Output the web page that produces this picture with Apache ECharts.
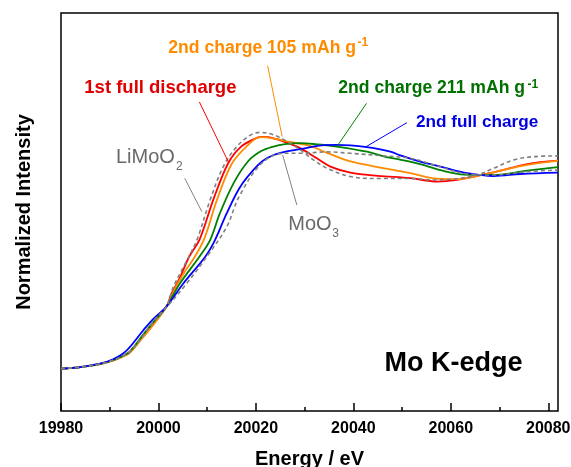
<!DOCTYPE html>
<html><head><meta charset="utf-8">
<script src="https://cdn.jsdelivr.net/npm/echarts@6/dist/echarts.min.js"></script>
<style>html,body{margin:0;padding:0;background:#fff}#c{width:571px;height:467px}</style>
</head><body><div id="c"></div>
<script>
// ---- data (energy in eV, normalized intensity) ----
const majorTicks = [19980, 20000, 20020, 20040, 20060, 20080];
const minorTicks = [19990, 20010, 20030, 20050, 20070];

const discharge1 = [[19980,0.013],[19984,0.021],[19988,0.037],[19990.7,0.056],[19992.8,0.078],[19994.2,0.100],[19996.9,0.180],[19998.9,0.240],[20001.6,0.323],[20002.7,0.390],[20004.4,0.470],[20006.3,0.575],[20008.5,0.665],[20011.3,0.865],[20014.3,1.045],[20016.8,1.125],[20019.5,1.165],[20021,1.178],[20022.5,1.176],[20025.7,1.154],[20029.1,1.121],[20032.5,1.070],[20035.3,1.028],[20039.4,0.998],[20045,0.982],[20051.7,0.970],[20057.2,0.953],[20061.3,0.961],[20065.4,0.981],[20070.2,1.008],[20075.7,1.041],[20082,1.058]];
const charge105 = [[19980,0.013],[19984,0.021],[19988,0.035],[19990.7,0.053],[19992.8,0.074],[19994.2,0.094],[19996.9,0.172],[19998.9,0.231],[20001.6,0.323],[20003.6,0.425],[20005.4,0.500],[20007.2,0.565],[20009.4,0.665],[20012.0,0.860],[20015.0,1.040],[20018.1,1.130],[20020.9,1.176],[20023.5,1.170],[20027.0,1.152],[20031.1,1.132],[20034.6,1.097],[20039.4,1.054],[20046.2,1.021],[20051.7,0.995],[20057.9,0.966],[20061.3,0.965],[20065.4,0.981],[20070.2,1.008],[20075.7,1.037],[20082,1.058]];
const charge211 = [[19980,0.013],[19984,0.021],[19988,0.036],[19990.7,0.055],[19992.8,0.078],[19994.2,0.100],[19996.9,0.185],[19998.9,0.245],[20001.6,0.323],[20004.4,0.441],[20008.4,0.575],[20010.6,0.659],[20012.6,0.793],[20015.4,0.944],[20018.4,1.055],[20021,1.105],[20023.6,1.129],[20026,1.141],[20029.1,1.146],[20032.5,1.140],[20036.6,1.129],[20042.8,1.103],[20046.2,1.080],[20049.8,1.062],[20053.7,1.040],[20057.9,1.010],[20062.7,0.988],[20068.8,0.986],[20075.7,1.008],[20082,1.025]];
const fullCharge2 = [[19980,0.013],[19984,0.021],[19988,0.038],[19990.7,0.060],[19993.5,0.105],[19996.9,0.206],[19998.9,0.262],[20001.6,0.323],[20005.1,0.441],[20009.6,0.575],[20011.6,0.659],[20014.0,0.793],[20016.8,0.927],[20020.2,1.030],[20022.2,1.070],[20025.0,1.097],[20030.5,1.122],[20033.5,1.135],[20036.6,1.137],[20042.8,1.126],[20047.6,1.103],[20049.6,1.085],[20053.7,1.053],[20057.9,1.028],[20063.4,0.995],[20068.8,0.981],[20074.3,0.991],[20082,0.998]];
const limoo2 = [[19980,0.013],[19984,0.021],[19988,0.036],[19990.7,0.055],[19992.8,0.077],[19994.2,0.098],[19996.9,0.180],[19998.9,0.245],[20001.6,0.323],[20003.0,0.420],[20005.9,0.560],[20007.9,0.660],[20010.6,0.860],[20013.3,1.028],[20016.1,1.129],[20018.8,1.185],[20020.8,1.200],[20023,1.193],[20026,1.160],[20029.1,1.112],[20031.8,1.062],[20034.6,1.020],[20039.4,0.978],[20045.5,0.968],[20051.7,0.968],[20056.5,0.961],[20061.3,0.968],[20065.4,0.986],[20068.8,1.020],[20072.9,1.062],[20077,1.078],[20082,1.082]];
const moo3 = [[19980,0.013],[19984,0.021],[19988,0.036],[19990.7,0.055],[19992.8,0.077],[19994.2,0.098],[19996.9,0.180],[19998.9,0.250],[20001.6,0.320],[20005.8,0.441],[20009.9,0.575],[20014.0,0.725],[20016.6,0.880],[20021.2,1.045],[20025.7,1.095],[20029.1,1.095],[20034.6,1.102],[20039.4,1.095],[20046.2,1.082],[20051.7,1.070],[20056.5,1.037],[20063.4,0.991],[20068.8,0.986],[20075.7,1.003],[20082,1.011]];

const seriesNames = ['1st full discharge', '2nd charge 105 mAh g-1', '2nd charge 211 mAh g-1', '2nd full charge', 'LiMoO2', 'MoO3'];

// leader lines in data coordinates [from, to]
const leaders = [
  {color:'#ff8c00', from:[20022.4,1.535], to:[20025.4,1.178]},
  {color:'#ff0000', from:[20008.4,1.353], to:[20014.4,1.049]},
  {color:'#008000', from:[20042.7,1.346], to:[20036.6,1.128]},
  {color:'#0000ff', from:[20051.0,1.249], to:[20042.6,1.128]},
  {color:'#808080', from:[20005.4,0.969], to:[20008.9,0.802]},
  {color:'#808080', from:[20025.5,1.086], to:[20028.4,0.835]}
];

const FF = '"Liberation Sans", Arial, sans-serif';
// text labels: [text, x(left), baseline, fontSize, weight, color]
const labels = [
  ['2nd charge 105 mAh g', 168.3, 53.3, 17.6, 'bold', '#ff8c00'],
  ['-1', 357.5, 46.6, 12, 'bold', '#ff8c00'],
  ['1st full discharge', 84.3, 93.3, 18.5, 'bold', '#e00000'],
  ['2nd charge 211 mAh g', 338.3, 93.3, 17.6, 'bold', '#007000'],
  ['-1', 527.5, 88.4, 12, 'bold', '#007000'],
  ['2nd full charge', 416, 127.3, 17.2, 'bold', '#0000e0'],
  ['LiMoO', 116, 164, 20, 'normal', '#6a6a6a'],
  ['2', 176.0, 170, 12, 'normal', '#6a6a6a'],
  ['MoO', 288.3, 230.7, 20, 'normal', '#6a6a6a'],
  ['3', 332.3, 237.3, 12, 'normal', '#6a6a6a'],
  ['Mo K-edge', 384.5, 372.3, 27, 'bold', '#000000']
];

const chart = echarts.init(document.getElementById('c'), null, {renderer:'canvas'});

function mkLine(name, data, color, width, dashed, z) {
  return {
    name, type:'line', data, smooth:0.35, showSymbol:false, symbol:'none',
    xAxisIndex:0, yAxisIndex:0, z,
    lineStyle:{color, width, type: dashed ? [4,3] : 'solid'},
    emphasis:{disabled:true}, animation:false
  };
}

chart.setOption({
  animation:false,
  grid:{left:61, right:13, top:13, bottom:56, containLabel:false, outerBoundsMode:'none',
        show:true, borderColor:'#000', borderWidth:1.5, backgroundColor:'transparent'},
  xAxis:[{
    type:'value', min:19980, max:20082, position:'bottom',
    axisLine:{show:false, onZero:false},
    axisTick:{show:true, inside:true, length:8, lineStyle:{color:'#000', width:1.5}, customValues:majorTicks},
    axisLabel:{show:true, customValues:majorTicks, formatter:v => String(v), color:'#000', fontSize:16, fontWeight:'bold', fontFamily:FF, margin:10},
    splitLine:{show:false},
    name:'Energy / eV', nameLocation:'middle', nameGap:38,
    nameTextStyle:{color:'#000', fontSize:20, fontWeight:'bold', fontFamily:FF}
  },{
    type:'value', min:19980, max:20082, position:'bottom',
    axisLine:{show:false, onZero:false},
    axisTick:{show:true, inside:true, length:4, lineStyle:{color:'#000', width:1.5}, customValues:minorTicks},
    axisLabel:{show:false}, splitLine:{show:false}
  }],
  yAxis:{
    type:'value', min:-0.2, max:1.8,
    axisLine:{show:false, onZero:false}, axisTick:{show:false}, axisLabel:{show:false}, splitLine:{show:false},
    name:'Normalized Intensity', nameLocation:'middle', nameGap:27, nameRotate:90,
    nameTextStyle:{color:'#000', fontSize:20, fontWeight:'bold', fontFamily:FF}
  },
  series:[
    mkLine(seriesNames[0], discharge1, '#ff0000', 1.8, false, 2),
    mkLine(seriesNames[1], charge105, '#ff8c00', 1.8, false, 3),
    mkLine(seriesNames[2], charge211, '#008000', 1.8, false, 4),
    mkLine(seriesNames[3], fullCharge2, '#0000ff', 1.8, false, 5),
    mkLine(seriesNames[4], limoo2, '#808080', 1.6, true, 6),
    mkLine(seriesNames[5], moo3, '#808080', 1.6, true, 6)
  ]
});

const graphics = [];
leaders.forEach(l => {
  const p1 = chart.convertToPixel({gridIndex:0}, l.from);
  const p2 = chart.convertToPixel({gridIndex:0}, l.to);
  graphics.push({type:'line', silent:true, z:10, shape:{x1:p1[0], y1:p1[1], x2:p2[0], y2:p2[1]}, style:{stroke:l.color, lineWidth:1}});
});
labels.forEach(t => {
  const [text, x, base, fs, fw, col] = t;
  graphics.push({type:'text', silent:true, z:11, x:x, y:base - 0.81*fs,
    style:{text, fill:col, fontSize:fs, fontWeight:fw, fontFamily:FF, align:'left', verticalAlign:'top'}});
});
chart.setOption({graphic:graphics});
</script>
</body></html>
